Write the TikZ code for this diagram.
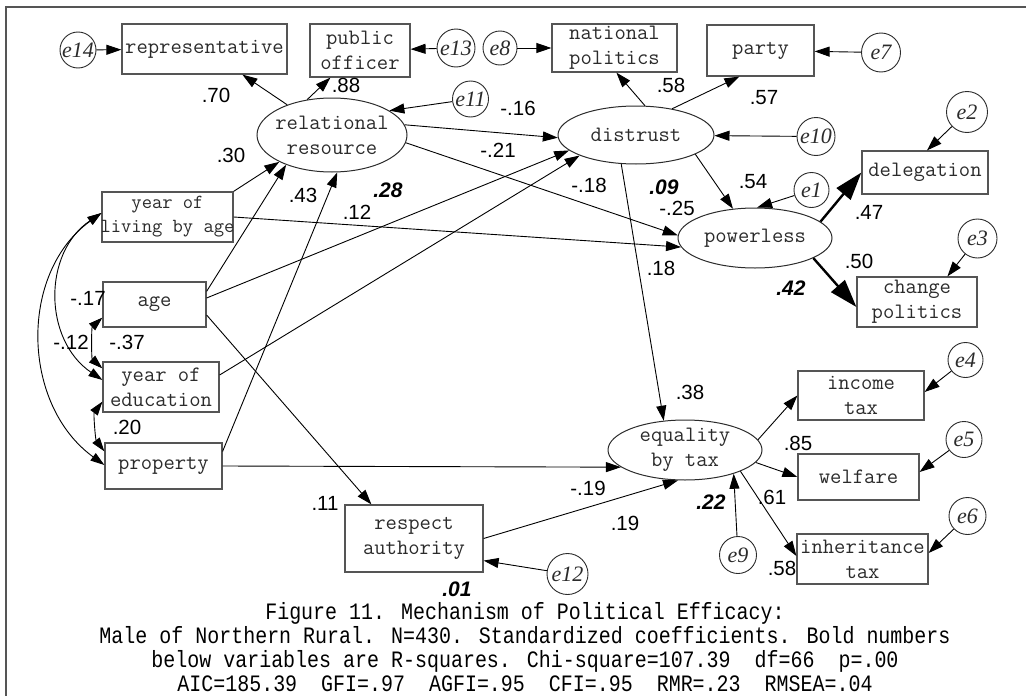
\documentclass[tikz,border=0pt]{standalone}
\usepackage{fontspec}
\usetikzlibrary{arrows.meta,shapes.geometric,calc}
\newfontfamily\numfont{Liberation Sans}
\newfontfamily\errfont{Liberation Serif}
\newfontfamily\capfont[FakeStretch=0.85]{Liberation Mono}
\definecolor{linegray}{HTML}{555555}
\definecolor{inkgray}{HTML}{2B2B2B}

\begin{document}
\begin{tikzpicture}[x=1pt,y=1pt,
  obs/.style={draw=linegray, line width=1.2pt, rectangle, inner sep=0pt},
  lat/.style={draw=inkgray, line width=1pt, ellipse, inner sep=0pt},
  err/.style={draw=inkgray, line width=0.9pt, circle, inner sep=0pt},
  vtext/.style={font=\ttfamily\fontsize{22}{25}\selectfont, text=inkgray, align=center, inner sep=0pt},
  etext/.style={font=\errfont\itshape\fontsize{22}{22}\selectfont, text=inkgray, inner sep=0pt},
  coef/.style={font=\numfont\fontsize{20.5}{20.5}\selectfont, inner sep=0pt},
  rsq/.style={font=\numfont\bfseries\itshape\fontsize{21}{21}\selectfont, inner sep=0pt},
  link/.style={line width=0.9pt, -{Triangle[length=15pt,width=10pt]}},
  boldlink/.style={line width=2.4pt, -{Triangle[length=28pt,width=18pt]}},
  corr/.style={line width=0.9pt, {Triangle[length=14pt,width=9pt]}-{Triangle[length=14pt,width=9pt]}},
]
\useasboundingbox (0,0) rectangle (1026,-696);

% frame lines
\draw[linegray, line width=1.3pt] (6,-696) -- (6,-7) -- (1026,-7);

% observed variables
\node[obs, minimum width=165, minimum height=50, label={[vtext]center:representative}] (rep) at (204.5,-49) {};
\node[obs, minimum width=100, minimum height=53, label={[vtext]center:{public\\officer}}] (pub) at (360,-50.5) {};
\node[obs, minimum width=125, minimum height=48, label={[vtext]center:{national\\politics}}] (nat) at (614.5,-48) {};
\node[obs, minimum width=107, minimum height=51, label={[vtext]center:party}] (party) at (760.5,-50.5) {};
\node[obs, minimum width=126, minimum height=43, label={[vtext]center:delegation}] (deleg) at (925,-172.5) {};
\node[obs, minimum width=120, minimum height=50, label={[vtext]center:{change\\politics}}] (change) at (917,-302) {};
\node[obs, minimum width=131, minimum height=50, label={[vtext, font=\ttfamily\fontsize{20}{24}\selectfont]center:{year of\\living by age}}] (ylive) at (167.5,-217) {};
\node[obs, minimum width=103, minimum height=45, label={[vtext]center:age}] (age) at (154.5,-304.5) {};
\node[obs, minimum width=116, minimum height=50, label={[vtext]center:{year of\\education}}] (yedu) at (161,-387) {};
\node[obs, minimum width=117, minimum height=46, label={[vtext]center:property}] (prop) at (163.5,-466) {};
\node[obs, minimum width=138, minimum height=67, label={[vtext]center:{respect\\authority}}] (resp) at (414,-538.5) {};
\node[obs, minimum width=126, minimum height=49, label={[vtext]center:{income\\tax}}] (inc) at (861,-395.5) {};
\node[obs, minimum width=121, minimum height=46, label={[vtext]center:welfare}] (welf) at (858.5,-477) {};
\node[obs, minimum width=131, minimum height=50, label={[vtext]center:{inheritance\\tax}}] (inh) at (862.5,-559) {};

% latent variables
\node[lat, minimum width=150, minimum height=74, label={[vtext]center:{relational\\resource}}] (rel) at (332,-135) {};
\node[lat, minimum width=156, minimum height=58, label={[vtext]center:distrust}] (dist) at (636,-135) {};
\node[lat, minimum width=154, minimum height=60, label={[vtext]center:powerless}] (pow) at (755,-238) {};
\node[lat, minimum width=154, minimum height=60, label={[vtext]center:{equality\\by tax}}] (eq) at (685,-450) {};

% error terms
\node[err, minimum size=36, label={[etext]center:e14}] (e14) at (78,-50) {};
\node[err, minimum size=38, label={[etext]center:e13}] (e13) at (456,-48) {};
\node[err, minimum size=34, label={[etext]center:e8}] (e8) at (500,-48) {};
\node[err, minimum size=39, label={[etext]center:e7}] (e7) at (881,-52.5) {};
\node[err, minimum size=36, label={[etext]center:e11}] (e11) at (470.5,-99) {};
\node[err, minimum size=38, label={[etext]center:e10}] (e10) at (816,-136.5) {};
\node[err, minimum size=41, label={[etext]center:e2}] (e2) at (967,-112) {};
\node[err, minimum size=35, label={[etext]center:e1}] (e1) at (811.5,-190) {};
\node[err, minimum size=39, label={[etext]center:e3}] (e3) at (977.5,-238.5) {};
\node[err, minimum size=35, label={[etext]center:e4}] (e4) at (965.5,-360) {};
\node[err, minimum size=36, label={[etext]center:e5}] (e5) at (964,-439.5) {};
\node[err, minimum size=37, label={[etext]center:e6}] (e6) at (967.5,-516) {};
\node[err, minimum size=37, label={[etext]center:e9}] (e9) at (738,-555) {};
\node[err, minimum size=41, label={[etext]center:e12}] (e12) at (567.5,-574) {};

% measurement paths and error terms
\draw[link] (e14) -- (rep);
\draw[link] (e13) -- (pub);
\draw[link] (e8) -- (nat);
\draw[link] (e7) -- (party);
\draw[link] (rel.146) -- ($(rep.south west)+(121,0)$);
\draw[link] (rel.125) -- ($(pub.south west)+(21,0)$);
\draw[link] (e11) -- (rel.23);
\draw[link] (dist.73) -- ($(nat.south west)+(65,0)$);
\draw[link] (dist.36) -- ($(party.south west)+(33,0)$);
\draw[link] (e10) -- (dist);
\draw[link] (e1) -- (pow.86);
\draw[boldlink] (pow.14) -- (deleg.west);
\draw[boldlink] (pow.-19) -- ($(change.west)+(0,-5)$);
\draw[link] (e2) -- ($(deleg.north)+(2,0)$);
\draw[link] (e3) -- ($(change.north west)+(91,0)$);
\draw[link] (e4) -- ($(inc.east)+(0,3.5)$);
\draw[link] (e5) -- ($(welf.east)+(0,5)$);
\draw[link] (e6) -- ($(inh.east)+(0,6)$);
\draw[link] (eq.8) -- (inc.west);
\draw[link] (eq.-10) -- (welf.west);
\draw[link] (eq.-21) -- ($(inh.west)+(0,3)$);
\draw[link] (e9) -- (eq.-26);
\draw[link] (e12) -- ($(resp.south east)+(0,12)$);

% structural paths
\draw[link] (rel.8) -- (dist.182);
\draw[link] (rel.-6) -- (pow.178);
\draw[link] (dist.-18) -- (pow.127);
\draw[link] (dist.243) -- (eq.126);
\draw[link] (prop.east) -- (eq.195);
\draw[link] (resp.east) -- (eq.257);
\draw[link] ($(age.east)+(0,-10.5)$) -- ($(resp.north west)+(27,0)$);
\draw[link] (ylive.north east) -- (rel.207);
\draw[link] ($(age.north east)+(0,-10)$) -- (rel.213);
\draw[link] ($(prop.north east)+(0,-9)$) -- (rel.278);
\draw[link] ($(age.east)+(0,6.5)$) -- (dist.193);
\draw[link] ($(yedu.east)+(0,12)$) -- (dist.200);
\draw[link] (ylive.east) -- (pow.187);

% correlations among exogenous variables
\draw[corr] ($(ylive.west)+(0,4)$) .. controls +(-59,-40) and +(-59,40) .. ($(yedu.west)+(0,7)$);
\draw[corr] ($(ylive.west)+(0,4)$) .. controls +(-83,-60) and +(-83,60) .. ($(prop.west)+(0,1)$);
\draw[corr] ($(age.south west)+(0,10)$) .. controls +(-11,-10) and +(-11,10) .. ($(yedu.north west)+(0,-7)$);
\draw[corr] ($(yedu.south west)+(0,11)$) .. controls +(-9,-12) and +(-9,12) .. ($(prop.north west)+(0,-9)$);

% coefficients
\node[coef] (c70) at (216,-95) {.70};
\node[coef] (c88) at (346,-85) {.88};
\node[coef] (c30) at (231,-155) {.30};
\node[coef] (c43) at (303,-195) {.43};
\node[coef] (c12) at (357,-212) {.12};
\node[coef] (m16) at (518,-108) {-.16};
\node[coef] (m21) at (498,-150) {-.21};
\node[coef] (c58a) at (671,-85) {.58};
\node[coef] (c57) at (764,-98) {.57};
\node[coef] (m18) at (589,-185) {-.18};
\node[coef] (m25) at (677,-208) {-.25};
\node[coef] (c54) at (753,-182) {.54};
\node[coef] (c47) at (869,-212) {.47};
\node[coef] (c50) at (859,-261) {.50};
\node[coef] (c18) at (661,-268) {.18};
\node[coef] (c38) at (690,-392) {.38};
\node[coef] (c85) at (798,-443) {.85};
\node[coef] (c61) at (772,-497) {.61};
\node[coef] (c58b) at (782,-568) {.58};
\node[coef] (m19) at (588,-488) {-.19};
\node[coef] (c19) at (625,-523) {.19};
\node[coef] (c11) at (325,-503) {.11};
\node[coef] (m17) at (88,-298) {-.17};
\node[coef] (m12) at (71,-342) {-.12};
\node[coef] (m37) at (127,-342) {-.37};
\node[coef] (c20) at (127,-427) {.20};

% squared multiple correlations
\node[rsq] (r28) at (388,-190) {.28};
\node[rsq] (r09) at (664,-187) {.09};
\node[rsq] (r42) at (791,-288) {.42};
\node[rsq] (r22) at (711,-502) {.22};
\node[rsq] (r01) at (457,-589) {.01};

% caption
\node[font=\capfont\fontsize{23.5}{24}\selectfont, align=center, inner sep=0pt] (caption) at (525,-647)
  {Figure 11. Mechanism of Political Efficacy:\\
   Male of Northern Rural. N=430. Standardized coefficients. Bold numbers\\
   below variables are R-squares. Chi-square=107.39~~df=66~~p=.00\\
   AIC=185.39~~GFI=.97~~AGFI=.95~~CFI=.95~~RMR=.23~~RMSEA=.04};
\end{tikzpicture}
\end{document}
